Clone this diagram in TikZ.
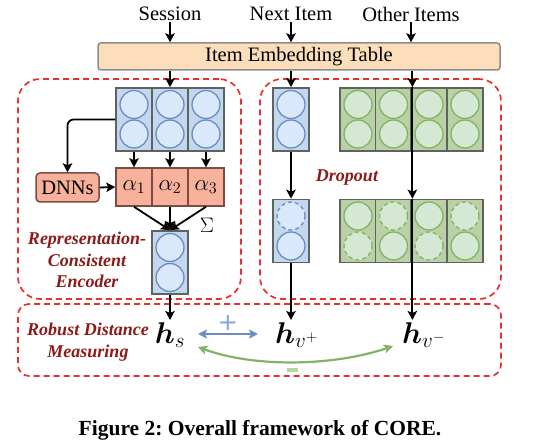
\RequirePackage{fix-cm}
\documentclass[tikz,border=0pt]{standalone}
\usepackage{bm}
\usepackage{fontspec}
\setmainfont{Liberation Serif}
\newfontfamily\plusfont{DejaVu Sans}
\usetikzlibrary{arrows.meta}
\definecolor{embfill}{HTML}{FDDEBB}
\definecolor{embdraw}{HTML}{8C8C8C}
\definecolor{bcell}{HTML}{C3D7EE}
\definecolor{bcircf}{HTML}{DAE8FC}
\definecolor{bcircd}{HTML}{6C8EBF}
\definecolor{gcell}{HTML}{B9D1A5}
\definecolor{gcircf}{HTML}{D5E8D4}
\definecolor{gcircd}{HTML}{82B366}
\definecolor{cellline}{HTML}{5F6360}
\definecolor{afill}{HTML}{F8B19B}
\definecolor{adraw}{HTML}{7A4C44}
\definecolor{dred}{HTML}{E8302C}
\definecolor{tred}{HTML}{8B1A1A}
\definecolor{plusblue}{HTML}{7EA6E0}
\definecolor{minusgreen}{HTML}{B5D99C}
\frenchspacing
\begin{document}
\begin{tikzpicture}[x=1pt,y=-1pt,
  arr/.style={-{Stealth[length=9pt,width=9.5pt,inset=2pt]}, line width=1.8pt, black},
  cellbase/.style={draw=cellline, line width=1.7pt, minimum width=36pt, minimum height=63pt, inner sep=0pt},
  bcellst/.style={cellbase, fill=bcell},
  gcellst/.style={cellbase, fill=gcell},
  bcircst/.style={circle, draw=bcircd, fill=bcircf, line width=1.3pt, minimum size=28pt, inner sep=0pt},
  gcircst/.style={circle, draw=gcircd, fill=gcircf, line width=1.3pt, minimum size=28pt, inner sep=0pt},
  dcirc/.style={dash pattern=on 4pt off 3pt},
  acellst/.style={draw=adraw, fill=afill, line width=1.5pt, minimum width=36pt, minimum height=38pt, inner sep=0pt, font=\fontsize{23}{27}\selectfont},
  toplabel/.style={font=\fontsize{20.5}{24}\selectfont, inner sep=1pt},
  dboxst/.style={draw=dred, line width=1.7pt, dash pattern=on 6pt off 4pt},
  tlabel/.style={text=tred, font=\fontsize{18}{21.5}\selectfont\bfseries\itshape, align=center},
  hlabel/.style={font=\fontsize{30}{34}\selectfont, inner sep=2pt}
]
\useasboundingbox (0,0) rectangle (540,446);

% dashed containers
\node[dboxst, rounded corners=22pt, minimum width=223pt, minimum height=220pt] (encbox) at (129.5,189) {};
\node[dboxst, rounded corners=22pt, minimum width=241pt, minimum height=220pt] (dropbox) at (380.5,189) {};
\node[dboxst, rounded corners=11pt, minimum width=483pt, minimum height=72pt] (measbox) at (259.5,340) {};

% top labels
\node[toplabel] (lsess) at (170,14) {Session};
\node[toplabel] (lnext) at (291,14) {Next Item};
\node[toplabel] (lother) at (411,14) {Other Items};

% embedding table
\node[draw=embdraw, fill=embfill, line width=1.5pt, rounded corners=3pt, minimum width=402pt, minimum height=27pt, font=\fontsize{20.5}{24}\selectfont] (emb) at (299,56.5) {Item Embedding Table};

% session grid
\foreach \i/\x in {1/134,2/170,3/206} {
  \node[bcellst] (s\i) at (\x,119.5) {};
  \node[bcircst] (s\i t) at (\x,104.5) {};
  \node[bcircst] (s\i b) at (\x,134) {};
}
% attention row
\node[acellst] (a1) at (134,187) {$\alpha_1$};
\node[acellst] (a2) at (170,187) {$\alpha_2$};
\node[acellst] (a3) at (206,187) {$\alpha_3$};
\node[draw=adraw, fill=afill, line width=1.5pt, rounded corners=4pt, minimum width=63pt, minimum height=29pt, inner sep=0pt, font=\fontsize{20.5}{24}\selectfont] (dnn) at (67.5,187.5) {DNNs};
\node[font=\fontsize{21}{24}\selectfont] (sig) at (207,225) {$\Sigma$};

% session output vector
\node[bcellst] (out) at (170,262.5) {};
\node[bcircst] (outt) at (170,247.5) {};
\node[bcircst] (outb) at (170,277.5) {};

% next item vectors
\node[bcellst] (n1) at (291,119.5) {};
\node[bcircst] (n1t) at (291,104.5) {};
\node[bcircst] (n1b) at (291,134) {};
\node[bcellst] (n2) at (291,231) {};
\node[bcircst, dcirc] (n2t) at (291,216) {};
\node[bcircst] (n2b) at (291,246) {};

% other items grids
\foreach \i/\x in {1/358,2/393.5,3/429,4/465} {
  \node[gcellst] (gt\i) at (\x,119.5) {};
  \node[gcircst] (gt\i t) at (\x,104.5) {};
  \node[gcircst] (gt\i b) at (\x,134) {};
  \node[gcellst] (gb\i) at (\x,231) {};
}
\node[gcircst] (gb1t) at (358,216) {};
\node[gcircst, dcirc] (gb1b) at (358,246) {};
\node[gcircst, dcirc] (gb2t) at (393.5,216) {};
\node[gcircst] (gb2b) at (393.5,246) {};
\node[gcircst] (gb3t) at (429,216) {};
\node[gcircst, dcirc] (gb3b) at (429,246) {};
\node[gcircst, dcirc] (gb4t) at (465,216) {};
\node[gcircst] (gb4b) at (465,246) {};

% labels
\node[tlabel] (rce) at (87,260) {Representation-\\Consistent\\Encoder};
\node[tlabel] (drop) at (347,178) {Dropout};
\node[tlabel] (rdm) at (88,342) {Robust Distance\\Measuring};

% representations
\node[hlabel, anchor=base] (hs) at (170,343) {$\bm{h}_s$};
\node[hlabel, anchor=base west] (hvp) at (273,343) {$\bm{h}_{v^+}$};
\node[hlabel, anchor=base west] (hvm) at (400,343) {$\bm{h}_{v^-}$};

% arrows top
\draw[arr] (lsess.south) -- (lsess.south |- emb.north);
\draw[arr] (lnext.south) -- (lnext.south |- emb.north);
\draw[arr] (lother.south) -- (lother.south |- emb.north);
\draw[arr] (emb.south -| s2.north) -- (s2.north);
\draw[arr] (emb.south -| n1.north) -- (n1.north);
\draw[arr] (emb.south -| gt2.north east) -- (gt2.north east);

% encoder arrows
\foreach \i in {1,2,3} { \draw[arr] (s\i.south) -- (a\i.north); }
\draw[arr, rounded corners=6pt] (s1.west) -| (dnn.north);
\draw[arr] (dnn.east) -- (a1.west);
\foreach \i in {1,2,3} { \draw[arr] (a\i.south) -- (out.north); }
\draw[arr] (out.south) -- (out.south |- hs.north);

% dropout arrows
\draw[arr] (n1.south) -- (n2.north);
\draw[arr] (gt2.north east) -- (gb2.north east);
\draw[arr] (n2.south) -- (n2.south |- hvp.north);
\draw[arr] (gb2.north east) -- (gb2.south east |- hvm.north);

% distance arrows
\coordinate (bl) at (198,334);
\coordinate (br) at (258,334);
\draw[bcircd, line width=2.2pt, {Stealth[length=9pt,width=9pt,inset=2pt]}-{Stealth[length=9pt,width=9pt,inset=2pt]}] (bl) -- (br);
\node[text=plusblue, font=\plusfont\fontsize{24}{28}\selectfont, inner sep=0pt] (plus) at (228,323) {+};
\coordinate (gl) at (198,347);
\coordinate (gr) at (393,346);
\draw[gcircd, line width=2.2pt, {Stealth[length=9pt,width=9pt,inset=2pt]}-{Stealth[length=9pt,width=9pt,inset=2pt]}] (gl) .. controls (255,368) and (335,366) .. (gr);
\node[fill=minusgreen, minimum width=11pt, minimum height=4pt, inner sep=0pt] (minus) at (292.5,370) {};

% caption
\node[font=\fontsize{21.5}{26}\selectfont\bfseries] (cap) at (260,430) {Figure 2: Overall framework of CORE.};
\end{tikzpicture}
\end{document}
